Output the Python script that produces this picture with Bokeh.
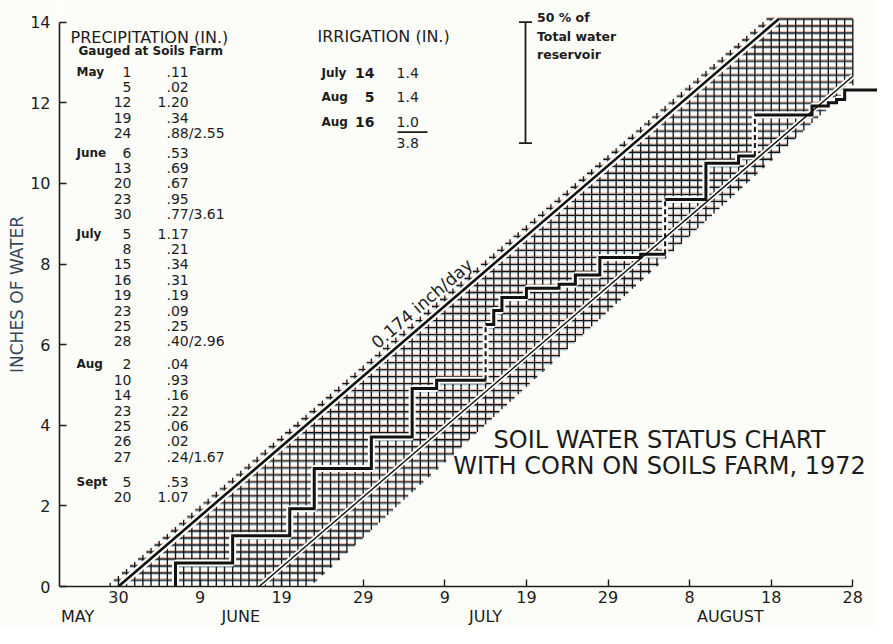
import math
from bokeh.plotting import figure
from bokeh.models import Range1d, FixedTicker, Label, LinearAxis
from bokeh.embed import file_html
from bokeh.resources import INLINE

# ------------------------------------------------------------------ data
ET_RATE = 0.174          # inch/day (crop water use)
ET_START_DAY = 30        # May 30 (days counted from April 30)
RESERVOIR_HALF = 3.0     # 50 % of total water reservoir (inches)
SEASON_END_DAY = 120     # Aug 28

tick_days = [30, 40, 50, 60, 70, 80, 90, 100, 110, 120]
tick_labels = ["30", "9", "19", "29", "9", "19", "29", "8", "18", "28"]
y_ticks = [0, 2, 4, 6, 8, 10, 12, 14]
month_names = ["MAY", "JUNE", "JULY", "AUGUST"]
month_label_days = [25, 45, 75, 105]

# cumulative water supply (rain + irrigation), read from the staircase
step_days = [37, 44, 51, 54, 61, 66, 69, 75, 76, 77, 80, 84, 86, 89, 94, 97,
             102, 106, 108, 115, 117, 118, 119]
step_levels = [0.58, 1.26, 1.93, 2.93, 3.71, 4.91, 5.12, 6.50, 6.85, 7.17,
               7.40, 7.50, 7.73, 8.16, 8.24, 9.60, 10.50, 10.68, 11.70,
               11.92, 12.00, 12.08, 12.32]
step_irrigated = [False, False, False, False, False, False, False, True,
                  False, False, False, False, False, False, False, True,
                  False, False, True, False, False, False, False]

# precipitation table
precip_groups = ["May", "June", "July", "Aug", "Sept"]
precip_group_of_row = [0] * 5 + [1] * 5 + [2] * 8 + [3] * 7 + [4] * 2
precip_day = ["1", "5", "12", "19", "24",
              "6", "13", "20", "23", "30",
              "5", "8", "15", "16", "19", "23", "25", "28",
              "2", "10", "14", "23", "25", "26", "27",
              "5", "20"]
precip_amount = [".11", ".02", "1.20", ".34", ".88/2.55",
                 ".53", ".69", ".67", ".95", ".77/3.61",
                 "1.17", ".21", ".34", ".31", ".19", ".09", ".25", ".40/2.96",
                 ".04", ".93", ".16", ".22", ".06", ".02", ".24/1.67",
                 ".53", "1.07"]

# irrigation table
irr_month = ["July", "Aug", "Aug"]
irr_day = ["14", "5", "16"]
irr_amount = ["1.4", "1.4", "1.0"]
irr_total = "3.8"

# ------------------------------------------------------------------ layout
FIG_W, FIG_H = 877, 628
BL, BR, BT, BB = 59, 0, 2, 42
X_DAY30_PX = 117.9
PX_PER_DAY = 8.16
Y14_PX = 21.7
HATCH_TOP = 14.08
x_start = ET_START_DAY - (X_DAY30_PX - BL) / PX_PER_DAY
x_end = x_start + (FIG_W - BL - BR) / PX_PER_DAY
frame_bottom = FIG_H - BB
px_per_in = (frame_bottom - Y14_PX) / 14.0
y_end = 14.0 + (Y14_PX - BT) / px_per_in

# reference-picture calibration (pixel -> data) for placing annotations
REF_X30, REF_PPD = 117.9, 8.16
REF_Y0, REF_PPI = 603.3, 41.54


def dx(px):
    return ET_START_DAY + (px - REF_X30) / REF_PPD


def dy(py):
    return (REF_Y0 - py) / REF_PPI


FONT = "DejaVu Sans"
INK = "#1c1c1c"
PAPER = "#fcfcf8"

p = figure(width=FIG_W, height=FIG_H, output_backend="svg", toolbar_location=None,
           title=None, x_range=Range1d(x_start, x_end), y_range=Range1d(0, y_end),
           min_border_left=BL, min_border_right=BR, min_border_top=BT,
           min_border_bottom=BB)
p.background_fill_color = PAPER
p.border_fill_color = PAPER
p.outline_line_color = None
p.xgrid.visible = False
p.ygrid.visible = False

main_x = p.xaxis[0]
main_y = p.yaxis[0]
for ax in (main_x, main_y):
    ax.axis_line_color = INK
    ax.axis_line_width = 1.6
    ax.major_tick_line_color = INK
    ax.major_tick_line_width = 1.4
    ax.major_tick_in = 7
    ax.major_tick_out = 0
    ax.minor_tick_line_color = None
    ax.major_label_text_font = FONT
    ax.major_label_text_font_size = "16px"
    ax.major_label_text_color = INK

main_x.ticker = FixedTicker(ticks=tick_days)
main_x.major_label_overrides = {d: t for d, t in zip(tick_days, tick_labels)}
main_x.bounds = (x_start, SEASON_END_DAY)
main_x.major_label_standoff = 4
main_y.ticker = FixedTicker(ticks=y_ticks)
main_y.bounds = (0, 14)
main_y.major_label_standoff = 9
main_y.axis_label = "INCHES OF WATER"
main_y.axis_label_text_font = FONT
main_y.axis_label_text_font_size = "17px"
main_y.axis_label_text_font_style = "normal"
main_y.axis_label_text_color = "#34465a"
main_y.axis_label_standoff = 0

month_axis = LinearAxis(ticker=FixedTicker(ticks=month_label_days),
                        major_label_overrides={d: m for d, m in zip(month_label_days, month_names)},
                        axis_line_color=None, major_tick_line_color=None,
                        minor_tick_line_color=None, major_tick_in=0, major_tick_out=0,
                        major_label_standoff=1, major_label_text_font=FONT,
                        major_label_text_font_size="16px", major_label_text_color=INK)
p.add_layout(month_axis, "below")

# ------------------------------------------------------------------ hatched band
LEAD_DAYS = 1.5
LOW_DAY0, LOW_SLOPE = 53.5, 0.187
ROW0 = 0.16

vx0, vy0, vx1, vy1 = [], [], [], []
for d in range(int(ET_START_DAY - LEAD_DAYS) + 1, SEASON_END_DAY + 1):
    top = min(HATCH_TOP, ET_RATE * (d - (ET_START_DAY - LEAD_DAYS)))
    bot = max(0.0, LOW_SLOPE * (d - LOW_DAY0))
    if top > bot:
        vx0.append(d); vx1.append(d); vy0.append(bot); vy1.append(top)

hx0, hy0, hx1, hy1 = [], [], [], []
k = 0
while ROW0 + ET_RATE * k <= HATCH_TOP:
    yk = ROW0 + ET_RATE * k
    left = ET_START_DAY - LEAD_DAYS + yk / ET_RATE
    right = min(SEASON_END_DAY, LOW_DAY0 + yk / LOW_SLOPE)
    if right > left:
        hx0.append(left); hx1.append(right); hy0.append(yk); hy1.append(yk)
    k += 1

off = 1.4 / px_per_in
p.segment(hx0, [y + off for y in hy0], hx1, [y + off for y in hy1],
          line_color="#d9553a", line_width=1.0, line_alpha=0.4)
p.segment(hx0, [y - off for y in hy0], hx1, [y - off for y in hy1],
          line_color="#2f7fc0", line_width=1.0, line_alpha=0.4)
p.segment(hx0, hy0, hx1, hy1, line_color="#161616", line_width=1.35)
p.segment(vx0, vy0, vx1, vy1, line_color="#161616", line_width=1.35)

# ------------------------------------------------------------------ ET lines
up_x = [ET_START_DAY, ET_START_DAY + HATCH_TOP / ET_RATE]
up_y = [0, HATCH_TOP]
lo_start = ET_START_DAY + RESERVOIR_HALF / ET_RATE
lo_x = [lo_start, SEASON_END_DAY]
lo_y = [0, ET_RATE * (SEASON_END_DAY - ET_START_DAY) - RESERVOIR_HALF]

p.line(up_x, up_y, line_color=PAPER, line_width=7)
p.line(lo_x, lo_y, line_color=PAPER, line_width=5)

# ------------------------------------------------------------------ staircase
pieces_x, pieces_y, dash_x, dash_y = [], [], [], []
cx, cy = [], []
prev = 0.0
for d, lev, irr in zip(step_days, step_levels, step_irrigated):
    if irr:
        cx.append(d); cy.append(prev)
        pieces_x.append(cx); pieces_y.append(cy)
        dash_x.append([d, d]); dash_y.append([prev, lev])
        cx, cy = [d], [lev]
    else:
        cx += [d, d]; cy += [prev, lev]
    prev = lev
cx.append(x_end + 2); cy.append(prev)
pieces_x.append(cx); pieces_y.append(cy)

p.multi_line(pieces_x, pieces_y, line_color=PAPER, line_width=7)
p.multi_line(dash_x, dash_y, line_color=PAPER, line_width=6)
p.multi_line(pieces_x, pieces_y, line_color="#111111", line_width=3,
             line_join="miter")
p.multi_line(dash_x, dash_y, line_color="#111111", line_width=2,
             line_dash="5 3")

p.line(up_x, up_y, line_color="#111111", line_width=2.6)
p.line(lo_x, lo_y, line_color="#111111", line_width=1.4)

# ------------------------------------------------------------------ reservoir bar
bar_x = dx(525)
cap = 0.8
p.segment([bar_x, bar_x - cap, bar_x - cap], [14 - RESERVOIR_HALF, 14, 14 - RESERVOIR_HALF],
          [bar_x, bar_x + cap, bar_x + cap], [14, 14, 14 - RESERVOIR_HALF],
          line_color=INK, line_width=1.8)


def add_text(x, y, text, size=14, align="left", baseline="middle",
             style="normal", angle=0.0, color=INK):
    p.add_layout(Label(x=x, y=y, text=text, text_font=FONT,
                       text_font_size=f"{size}px", text_align=align,
                       text_baseline=baseline, text_font_style=style,
                       angle=angle, text_color=color))


def add_decimal(x_dec, y, s, size=14, style="normal"):
    if "." in s:
        i = s.index(".")
        whole, rest = s[:i], s[i:]
    else:
        whole, rest = s, ""
    if whole:
        add_text(x_dec, y, whole, size=size, align="right", style=style)
    if rest:
        add_text(x_dec, y, rest, size=size, align="left", style=style)


for i, t in enumerate(["50 % of", "Total water", "reservoir"]):
    add_text(dx(536.5), dy([17, 36, 55][i]), t, size=12.5, style="bold")

# ------------------------------------------------------------------ rate label
ang = math.atan(ET_RATE * px_per_in / PX_PER_DAY)
lab_day = 68
add_text(lab_day, ET_RATE * (lab_day - ET_START_DAY) + 0.22, "0.174 inch/day",
         size=17, align="center", baseline="bottom", angle=ang)

# ------------------------------------------------------------------ precipitation table
add_text(dx(70), dy(37), "PRECIPITATION (IN.)", size=16)
add_text(dx(78), dy(51), "Gauged at Soils Farm", size=12, style="bold")
group_gap = [0, 4.2, 8.5, 16.5, 26.5]
seen = set()
for i, (g, dd, amt) in enumerate(zip(precip_group_of_row, precip_day, precip_amount)):
    ypx = 72.7 + 15.85 * i + group_gap[g]
    if g not in seen:
        seen.add(g)
        add_text(dx(76), dy(ypx), precip_groups[g], size=12, style="bold")
    add_text(dx(131), dy(ypx), dd, size=14, align="right")
    add_decimal(dx(166), dy(ypx), amt)

# ------------------------------------------------------------------ irrigation table
add_text(dx(317), dy(36), "IRRIGATION (IN.)", size=16)
for i, (m, dd, amt) in enumerate(zip(irr_month, irr_day, irr_amount)):
    ypx = [74, 99, 125][i]
    add_text(dx(321), dy(ypx), m, size=12, style="bold")
    add_text(dx(374), dy(ypx), dd, size=14, align="right", style="bold")
    add_decimal(dx(405), dy(ypx), amt)
p.segment([dx(397)], [dy(135)], [dx(427)], [dy(135)], line_color=INK, line_width=1.8)
add_decimal(dx(405), dy(146), irr_total)

# ------------------------------------------------------------------ title
add_text(dx(659), dy(452.5), "SOIL WATER STATUS CHART", size=24, align="center")
add_text(dx(659), dy(479), "WITH CORN ON SOILS FARM, 1972", size=24, align="center")

open("out.html", "w").write(file_html(p, INLINE))
